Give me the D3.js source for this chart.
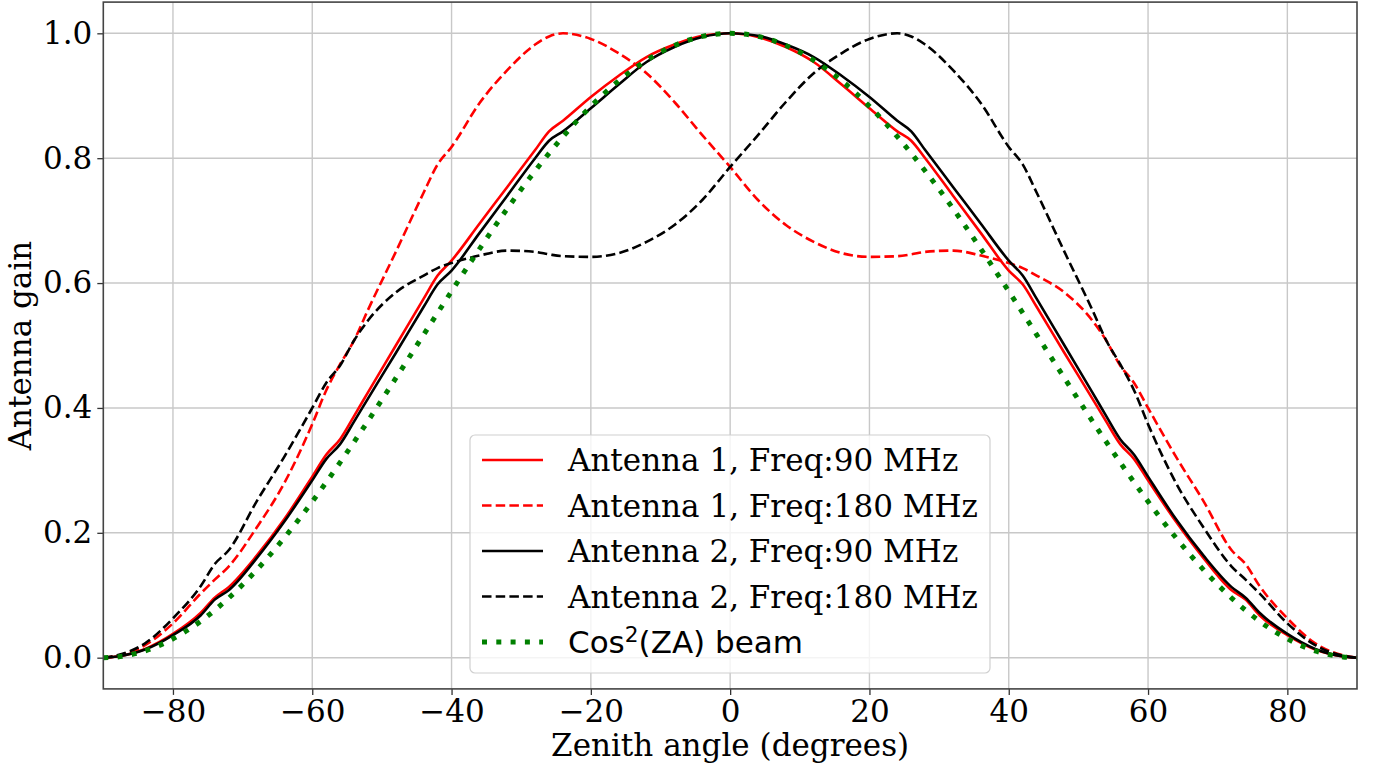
<!DOCTYPE html>
<html>
<head>
<meta charset="utf-8">
<script src="https://cdn.jsdelivr.net/npm/d3@7"></script>
<style>
  html, body { margin: 0; padding: 0; background: #fff; }
  svg { display: block; }
</style>
</head>
<body>
<svg id="chart" width="1376" height="769"></svg>
<script>
// ---------------- DATA ----------------
const angles = [-90,-88,-84,-80,-76,-74,-72,-68,-64,-60,-58,-56,-54,-52,-48,-44,-42,-40,-36,-32,-28,-26,-24,-20,-16,-12,-8,-4,
  0,
  4,8,12,16,20,24,26,28,32,36,40,42,44,48,52,54,56,58,60,64,68,72,74,76,80,84,88,90];

const ant1Freq90 = [0,0.002,0.014,0.038,0.072,0.096,0.113,0.163,0.222,0.290,0.325,0.350,0.387,0.425,0.500,0.575,0.612,0.636,0.695,0.754,0.813,0.843,0.860,0.898,0.932,0.962,0.982,0.996,
  1.0,
  0.994,0.978,0.954,0.918,0.880,0.843,0.828,0.800,0.740,0.680,0.620,0.598,0.562,0.488,0.415,0.378,0.342,0.318,0.284,0.218,0.159,0.108,0.093,0.068,0.036,0.013,0.002,0];

const ant1Freq180 = [0,0.003,0.020,0.055,0.103,0.125,0.146,0.208,0.280,0.374,0.428,0.470,0.508,0.557,0.650,0.745,0.790,0.818,0.888,0.941,0.982,0.995,1.0,0.991,0.968,0.936,0.890,0.837,
  0.786,
  0.733,0.693,0.666,0.648,0.642,0.643,0.646,0.650,0.652,0.644,0.632,0.624,0.612,0.585,0.540,0.508,0.468,0.440,0.400,0.322,0.250,0.172,0.150,0.115,0.063,0.023,0.004,0];

const ant2Freq90 = [0,0.002,0.013,0.036,0.068,0.093,0.108,0.159,0.218,0.284,0.318,0.342,0.378,0.415,0.488,0.562,0.598,0.620,0.680,0.740,0.800,0.828,0.843,0.880,0.918,0.954,0.978,0.994,
  1.0,
  0.996,0.982,0.962,0.932,0.898,0.860,0.843,0.813,0.754,0.695,0.636,0.612,0.575,0.500,0.425,0.387,0.350,0.325,0.290,0.222,0.163,0.113,0.096,0.072,0.038,0.014,0.002,0];

const ant2Freq180 = [0,0.004,0.023,0.063,0.115,0.150,0.172,0.250,0.322,0.400,0.440,0.468,0.508,0.540,0.585,0.612,0.624,0.632,0.644,0.652,0.650,0.646,0.643,0.642,0.648,0.666,0.693,0.733,
  0.786,
  0.837,0.890,0.936,0.968,0.991,1.0,0.995,0.982,0.941,0.888,0.818,0.790,0.745,0.650,0.557,0.508,0.470,0.428,0.374,0.280,0.208,0.146,0.125,0.103,0.055,0.020,0.003,0];

const cos2Beam = [0,0.0012,0.0109,0.0302,0.0585,0.0760,0.0955,0.1403,0.1922,0.25,0.2808,0.3127,0.3455,0.3790,0.4477,0.5174,0.5523,0.5868,0.6545,0.7192,0.7796,0.8078,0.8346,0.8830,0.9240,0.9568,0.9806,0.9951,
  1.0,
  0.9951,0.9806,0.9568,0.9240,0.8830,0.8346,0.8078,0.7796,0.7192,0.6545,0.5868,0.5523,0.5174,0.4477,0.3790,0.3455,0.3127,0.2808,0.25,0.1922,0.1403,0.0955,0.0760,0.0585,0.0302,0.0109,0.0012,0];

const xTicks = [-80,-60,-40,-20,0,20,40,60,80];
const yTicks = [0.0,0.2,0.4,0.6,0.8,1.0];
const xLabel = "Zenith angle (degrees)";
const yLabel = "Antenna gain";

const seriesNames = ["Antenna 1, Freq:90 MHz","Antenna 1, Freq:180 MHz","Antenna 2, Freq:90 MHz","Antenna 2, Freq:180 MHz","Cos2(ZA) beam"];

// ---------------- LAYOUT ----------------
const plot = {left: 103.3, right: 1357, top: 2.1, bottom: 688.9};
const serif = "'DejaVu Serif', serif";
const sans = "'DejaVu Sans', sans-serif";
const fs = 31;

const svg = d3.select("#chart");
const x = d3.scaleLinear().domain([-90, 90]).range([plot.left, plot.right]);
const y = d3.scaleLinear().domain([-0.05, 1.05]).range([plot.bottom, plot.top]);

// grid
const grid = svg.append("g");
grid.selectAll("line.vx").data(xTicks).join("line")
  .attr("x1", d => x(d)).attr("x2", d => x(d))
  .attr("y1", plot.top).attr("y2", plot.bottom)
  .attr("stroke", "#c8c8c8").attr("stroke-width", 1.4);
grid.selectAll("line.hy").data(yTicks).join("line")
  .attr("y1", d => y(d)).attr("y2", d => y(d))
  .attr("x1", plot.left).attr("x2", plot.right)
  .attr("stroke", "#c8c8c8").attr("stroke-width", 1.4);

// clip
svg.append("clipPath").attr("id", "clip").append("rect")
  .attr("x", plot.left).attr("y", plot.top)
  .attr("width", plot.right - plot.left).attr("height", plot.bottom - plot.top);

const series = [
  {vals: ant1Freq90, color: "#ff0000", dash: null, w: 2.6},
  {vals: ant1Freq180, color: "#ff0000", dash: "9.5,4.2", w: 2.6},
  {vals: ant2Freq90, color: "#000000", dash: null, w: 2.6},
  {vals: ant2Freq180, color: "#000000", dash: "9.5,4.2", w: 2.6},
  {vals: cos2Beam, color: "#008000", dash: "5,9.3", w: 5}
];

const line = d3.line().x(d => x(d[0])).y(d => y(d[1])).curve(d3.curveMonotoneX);
const lines = svg.append("g").attr("clip-path", "url(#clip)");
series.forEach(s => {
  lines.append("path")
    .datum(angles.map((a, i) => [a, s.vals[i]]))
    .attr("d", line)
    .attr("fill", "none")
    .attr("stroke", s.color)
    .attr("stroke-width", s.w)
    .attr("stroke-dasharray", s.dash)
    .attr("stroke-linejoin", "round");
});

// axes
const xAxis = d3.axisBottom(x).tickValues(xTicks).tickFormat(d3.format("d")).tickSize(6).tickPadding(5);
const yAxis = d3.axisLeft(y).tickValues(yTicks).tickFormat(d3.format(".1f")).tickSize(6).tickPadding(5);
const gx = svg.append("g").attr("transform", `translate(0,${plot.bottom})`).call(xAxis);
const gy = svg.append("g").attr("transform", `translate(${plot.left},0)`).call(yAxis);
[gx, gy].forEach(g => {
  g.select(".domain").remove();
  g.selectAll(".tick line").attr("stroke", "#333").attr("stroke-width", 1.3);
  g.selectAll(".tick text").attr("font-family", serif).attr("font-size", fs).attr("fill", "#000");
});

// frame
svg.append("rect")
  .attr("x", plot.left).attr("y", plot.top)
  .attr("width", plot.right - plot.left).attr("height", plot.bottom - plot.top)
  .attr("fill", "none").attr("stroke", "#444").attr("stroke-width", 1.6);

// axis labels
svg.append("text").attr("x", (plot.left + plot.right) / 2).attr("y", 756)
  .attr("text-anchor", "middle").attr("font-family", serif).attr("font-size", fs)
  .text(xLabel);
svg.append("text").attr("transform", `translate(31,${(plot.top + plot.bottom) / 2}) rotate(-90)`)
  .attr("text-anchor", "middle").attr("font-family", serif).attr("font-size", fs)
  .text(yLabel);

// legend
const leg = svg.append("g");
const lx = 470, ly = 435, lw = 520, lh = 238;
leg.append("rect").attr("x", lx).attr("y", ly).attr("width", lw).attr("height", lh)
  .attr("rx", 5).attr("ry", 5)
  .attr("fill", "#fff").attr("fill-opacity", 0.8)
  .attr("stroke", "#d0d0d0").attr("stroke-width", 1.2);
const rowY = [460, 505.5, 551, 596.5, 642];
series.forEach((s, i) => {
  leg.append("line").attr("x1", 482).attr("x2", 543).attr("y1", rowY[i]).attr("y2", rowY[i])
    .attr("stroke", s.color).attr("stroke-width", s.w).attr("stroke-dasharray", s.dash);
  if (i < 4) {
    leg.append("text").attr("x", 568).attr("y", rowY[i] + 0.365 * fs)
      .attr("font-family", serif).attr("font-size", fs).text(seriesNames[i]);
  } else {
    const t = leg.append("text").attr("x", 568).attr("y", rowY[i] + 0.365 * fs)
      .attr("font-family", sans).attr("font-size", fs);
    t.append("tspan").text("Cos");
    t.append("tspan").attr("font-size", fs * 0.7).attr("dy", -fs * 0.36).text("2");
    t.append("tspan").attr("dy", fs * 0.36).text("(ZA) beam");
  }
});
</script>
</body>
</html>
